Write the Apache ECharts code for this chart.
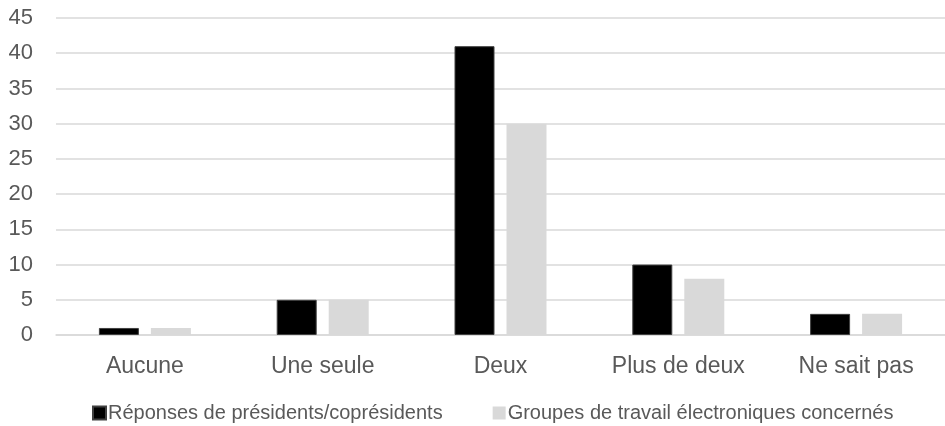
<!DOCTYPE html>
<html>
<head>
<meta charset="utf-8">
<script src="https://cdn.jsdelivr.net/npm/echarts@6/dist/echarts.min.js"></script>
<style>
  html, body { margin: 0; padding: 0; background: #fff; }
  #chart { width: 945px; height: 426px; }
</style>
</head>
<body>
<div id="chart"></div>
<script>
// catégories et valeurs
const categories = ['Aucune', 'Une seule', 'Deux', 'Plus de deux', 'Ne sait pas'];
const presidents = [1, 5, 41, 10, 3];
const groupes = [1, 5, 30, 8, 3];
const seriesNames = ['Réponses de présidents/coprésidents', 'Groupes de travail électroniques concernés'];

const chart = echarts.init(document.getElementById('chart'), null, { renderer: 'canvas' });

const font = '"Liberation Sans", Arial, sans-serif';

chart.setOption({
  animation: false,
  textStyle: { fontFamily: font },
  grid: { left: 56, top: 18, width: 900, bottom: 91, containLabel: false },
  legend: {
    left: 87,
    top: 398,
    itemWidth: 13,
    itemHeight: 13,
    itemGap: 50,
    icon: 'rect',
    textStyle: { fontSize: 20, color: '#595959', fontFamily: font, padding: [0, 0, 0, -3] },
    data: seriesNames
  },
  xAxis: {
    type: 'category',
    data: categories,
    axisLine: { show: true, lineStyle: { color: '#d9d9d9', width: 1.5 } },
    axisTick: { show: false },
    axisLabel: { fontSize: 23, color: '#595959', margin: 20, fontFamily: font }
  },
  yAxis: {
    type: 'value',
    min: 0,
    max: 45,
    interval: 5,
    axisLine: { show: false },
    axisTick: { show: false },
    axisLabel: { fontSize: 22, color: '#595959', margin: 23, fontFamily: font },
    splitLine: { lineStyle: { color: '#d9d9d9', width: 1.5 } }
  },
  series: [
    {
      name: seriesNames[0],
      type: 'bar',
      data: presidents,
      barWidth: 40,
      barGap: '30%',
      itemStyle: { color: '#000000', borderColor: '#404040', borderWidth: 1 }
    },
    {
      name: seriesNames[1],
      type: 'bar',
      data: groupes,
      barWidth: 40,
      itemStyle: { color: '#d9d9d9' }
    }
  ]
});
</script>
</body>
</html>
